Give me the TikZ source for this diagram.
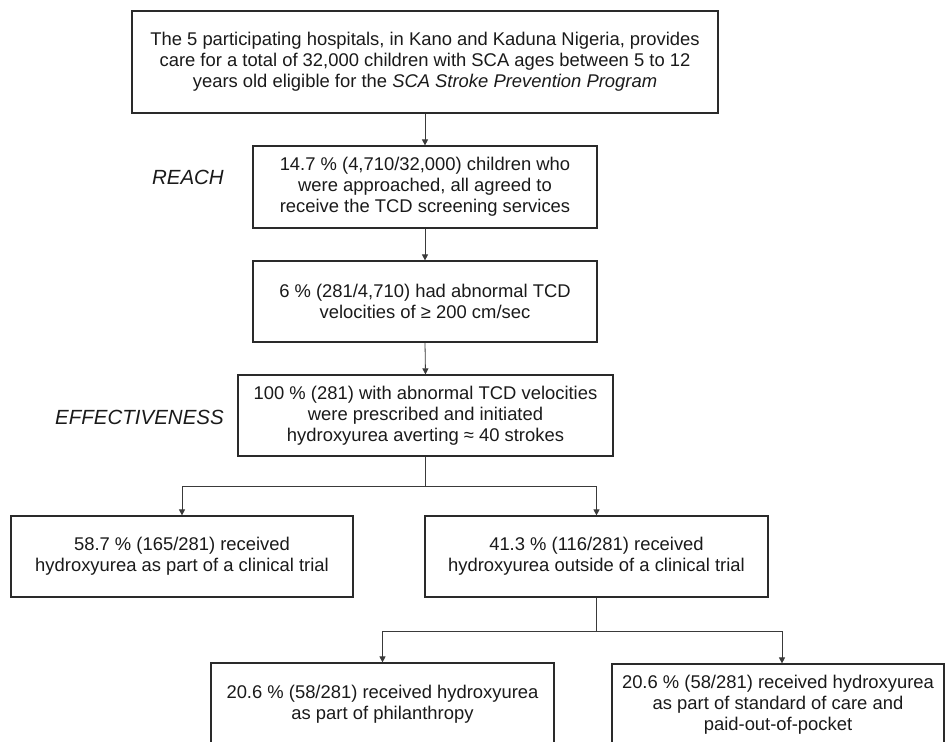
\documentclass[tikz,border=0pt]{standalone}
\usepackage{fontspec}
\setmainfont{Liberation Sans}
\usetikzlibrary{arrows.meta}
\definecolor{boxline}{HTML}{2A2A2A}
\definecolor{conline}{HTML}{3A3A3A}
\definecolor{txt}{HTML}{1A1A1A}
\begin{document}
\begin{tikzpicture}[x=1pt,y=-1pt,
  box/.style={draw=boxline, line width=1.2pt, rectangle, inner sep=0pt, align=center,
    text=txt, font=\fontsize{18.4}{21}\selectfont},
  lbl/.style={text=txt, font=\fontsize{20.5}{24}\selectfont\itshape, anchor=east, inner sep=0pt},
  conn/.style={draw=conline, line width=0.8pt},
  arr/.style={conn, -{Triangle[length=6pt,width=6pt]}}]
\useasboundingbox (0,0) rectangle (946,742);
\clip (0,0) rectangle (946,742);
\fill[white] (0,0) rectangle (946,742);

\node[box, minimum width=586pt, minimum height=102pt] (top) at (425,62)
  {The 5 participating hospitals, in Kano and Kaduna Nigeria, provides\\
   care for a total of 32,000 children with SCA ages between 5 to 12\\
   years old eligible for the \textit{SCA Stroke Prevention Program}};
\node[box, minimum width=344pt, minimum height=82pt] (reach) at (425,187)
  {14.7 \% (4,710/32,000) children who\\ were approached, all agreed to\\ receive the TCD screening services};
\node[box, minimum width=344pt, minimum height=81pt] (tcd) at (425,301.5)
  {6 \% (281/4,710) had abnormal TCD\\ velocities of ≥ 200 cm/sec};
\node[box, minimum width=375pt, minimum height=81pt] (eff) at (425.5,415.5)
  {100 \% (281) with abnormal TCD velocities\\ were prescribed and initiated\\ hydroxyurea averting ≈ 40 strokes};
\node[box, minimum width=342pt, minimum height=81pt] (trial) at (182,556.5)
  {58.7 \% (165/281) received\\ hydroxyurea as part of a clinical trial};
\node[box, minimum width=343pt, minimum height=81pt] (outside) at (596.5,556.5)
  {41.3 \% (116/281) received\\ hydroxyurea outside of a clinical trial};
\node[box, minimum width=343pt, minimum height=82pt] (phil) at (382.5,704)
  {20.6 \% (58/281) received hydroxyurea\\ as part of philanthropy};
\node[box, minimum width=332pt, minimum height=82pt] (pocket) at (778,705)
  {20.6 \% (58/281) received hydroxyurea\\ as part of standard of care and\\ paid-out-of-pocket};

\node[lbl] (lreach) at (224,177.5) {REACH};
\node[lbl] (leff) at (224,417.5) {EFFECTIVENESS};

\draw[arr] (top.south) -- (reach.north);
\draw[arr] (reach.south) -- (tcd.north);
\draw[arr] (tcd.south) -- (eff.north);
\draw[arr] (eff.south) -- ++(0,30) -| (trial.north);
\draw[arr] (eff.south) -- ++(0,30) -| (outside.north);
\draw[arr] (outside.south) -- ++(0,34) -| (phil.north);
\draw[arr] (outside.south) -- ++(0,34) -| ([xshift=4pt]pocket.north);
\end{tikzpicture}
\end{document}
